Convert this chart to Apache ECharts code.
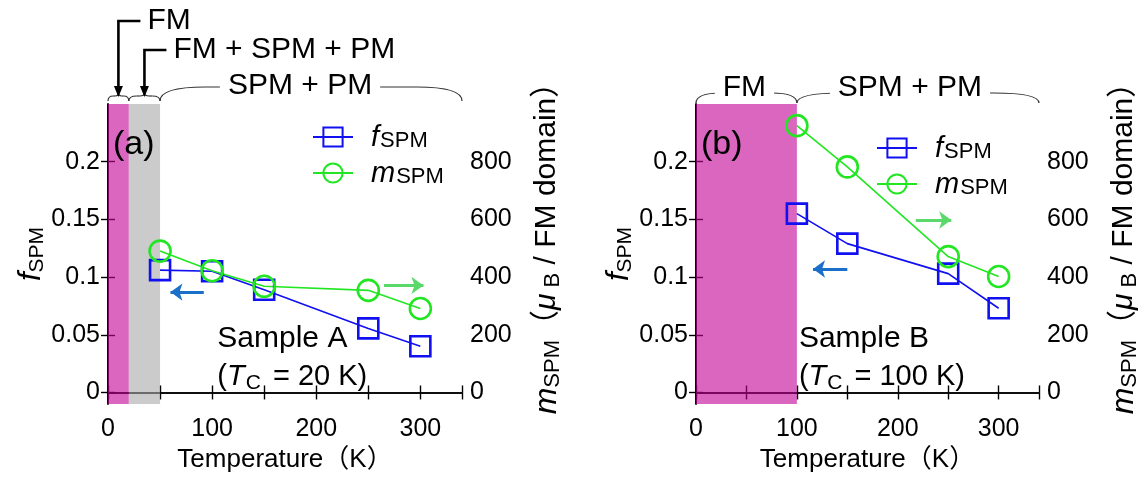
<!DOCTYPE html>
<html><head><meta charset="utf-8">
<script src="https://cdn.jsdelivr.net/npm/echarts@6/dist/echarts.min.js"></script>
<style>html,body{margin:0;padding:0;background:#fff}#c{width:1142px;height:478px}</style>
</head><body><div id="c"></div>
<script>
// ---- data ----
const tempA = [50, 100, 150, 250, 300];
const fA = [0.106, 0.105, 0.089, 0.0555, 0.040];
const mA = [490, 422, 368, 354, 291];
const tempB = [100, 150, 250, 300];
const fB = [0.155, 0.129, 0.103, 0.073];
const mB = [925, 782, 471, 402];
const xLabelVals = [0, 100, 200, 300];
const fTicks = [0, 0.05, 0.1, 0.15, 0.2];
const mTicks = [0, 200, 400, 600, 800];
const phasesA = [
  {from: 0, to: 20, name: 'FM', shade: 'mag'},
  {from: 20, to: 50, name: 'FM + SPM + PM', shade: 'gray'},
  {from: 50, to: 340, name: 'SPM + PM', shade: null}
];
const phasesB = [
  {from: 0, to: 100, name: 'FM', shade: 'mag'},
  {from: 100, to: 340, name: 'SPM + PM', shade: null}
];
// arrows: [xFrom, xTo, y]
const fArrowA = [92, 60, 0.087];
const mArrowA = [265, 303, 371];
const fArrowB = [150, 116, 0.107];
const mArrowB = [218, 253, 598];

// ---- style ----
const FONT = "'Liberation Sans', Arial, 'Noto Sans CJK JP', sans-serif";
const BLUE = '#1010f0';
const GREEN = '#22e622';
const SHADE = {mag: '#c10096', gray: '#a8a8a8'};
const AX = {lineStyle: {color: '#000', width: 1.6}};

const chart = echarts.init(document.getElementById('c'), null, {renderer: 'canvas'});

const grids = [
  {left: 108, top: 104, width: 354, height: 300},
  {left: 696, top: 104, width: 353, height: 300}
];

const xAxes = [], yAxes = [], series = [];
const legendRich = {
  i: {fontFamily: FONT, fontSize: 29, fontStyle: 'italic', color: '#000', verticalAlign: 'bottom', lineHeight: 30, padding: [0, 0, 0, 13]},
  s: {fontFamily: FONT, fontSize: 22, color: '#000', verticalAlign: 'bottom', lineHeight: 22, padding: [0, 0, 0, 1]}
};
const nameRichL = {
  i: {fontFamily: FONT, fontSize: 31, fontStyle: 'italic', color: '#000'},
  s: {fontFamily: FONT, fontSize: 21, color: '#000', padding: [11, 0, 0, 0]}
};
const nameRichR = {
  i: {fontFamily: FONT, fontSize: 32, fontStyle: 'italic', color: '#000', padding: [0, 0, 0, 26]},
  s: {fontFamily: FONT, fontSize: 22, color: '#000', padding: [12, 0, 0, 0]},
  n: {fontFamily: FONT, fontSize: 30, color: '#000'},
  g: {fontFamily: FONT, fontSize: 30, fontStyle: 'italic', color: '#000'}
};

function panel(gi, temps, f, m, phases, fArr, mArr) {
  const xb = gi * 2, yl = gi * 2, yr = gi * 2 + 1;
  xAxes.push({
    gridIndex: gi, type: 'value', min: 0, max: 340, interval: 50, position: 'bottom',
    axisLine: AX, splitLine: {show: false},
    axisTick: {inside: true, length: 7, lineStyle: {color: '#000', width: 1.4}},
    axisLabel: {fontFamily: FONT, fontSize: 25, color: '#000', margin: 13,
      formatter: v => xLabelVals.indexOf(v) >= 0 ? String(v) : ''},
    name: 'Temperature（K）', nameLocation: 'middle', nameGap: 42,
    nameTextStyle: {fontFamily: FONT, fontSize: 26, color: '#000'}
  });
  xAxes.push({
    gridIndex: gi, type: 'value', min: 0, max: 340, interval: 50, position: 'top',
    axisLine: AX, splitLine: {show: false},
    axisTick: {inside: true, length: 7, lineStyle: {color: '#000', width: 1.4}},
    axisLabel: {show: false}
  });
  yAxes.push({
    gridIndex: gi, type: 'value', min: -0.01, max: 0.25, position: 'left',
    axisLine: {show: true, lineStyle: {color: '#000', width: 1.6}}, splitLine: {show: false},
    axisTick: {show: true, inside: true, length: 7, customValues: fTicks, lineStyle: {color: '#000', width: 1.4}},
    axisLabel: {fontFamily: FONT, fontSize: 25, color: '#000', margin: 8, customValues: fTicks,
      formatter: v => String(v)},
    name: '{i|f}{s|SPM}', nameLocation: 'middle', nameGap: 55, nameRotate: 90,
    nameTextStyle: {rich: nameRichL}
  });
  yAxes.push({
    gridIndex: gi, type: 'value', min: -40, max: 1000, position: 'right',
    axisLine: {show: true, lineStyle: {color: '#000', width: 1.6}}, splitLine: {show: false},
    axisTick: {show: true, inside: true, length: 7, customValues: mTicks, lineStyle: {color: '#000', width: 1.4}},
    axisLabel: {fontFamily: FONT, fontSize: 25, color: '#000', margin: 8, customValues: mTicks},
    name: '{i|m}{s|SPM}{n|（}{g|μ}{s| B}{n| / FM domain）}', nameLocation: 'middle', nameGap: 68, nameRotate: 90,
    nameTextStyle: {rich: nameRichR}
  });
  const arrowLine = (arr, color) => ({
    silent: true, symbol: ['none', 'arrow'], symbolSize: [13, 12], label: {show: false},
    lineStyle: {color: color, width: 3.2, type: 'solid'}, emphasis: {disabled: true},
    data: [[{coord: [arr[0], arr[2]]}, {coord: [arr[1], arr[2]]}]]
  });
  series.push({
    type: 'line', name: 'f', xAxisIndex: xb, yAxisIndex: yl, z: 3,
    data: temps.map((t, i) => [t, f[i]]),
    symbol: 'rect', symbolSize: 20,
    lineStyle: {color: BLUE, width: 1.6},
    itemStyle: {color: 'rgba(255,255,255,0)', borderColor: BLUE, borderWidth: 2.6},
    emphasis: {disabled: true},
    markLine: arrowLine(fArr, '#1a70c8')
  });
  series.push({
    type: 'line', name: 'm', xAxisIndex: xb, yAxisIndex: yr, z: 3,
    data: temps.map((t, i) => [t, m[i]]),
    symbol: 'circle', symbolSize: 21,
    lineStyle: {color: GREEN, width: 1.6},
    itemStyle: {color: 'rgba(255,255,255,0)', borderColor: GREEN, borderWidth: 2.6},
    emphasis: {disabled: true},
    markLine: arrowLine(mArr, '#5ad86a')
  });
  series.push({
    type: 'line', xAxisIndex: xb, yAxisIndex: yl, data: [], z: 6, silent: true,
    markArea: {
      silent: true,
      data: phases.filter(p => p.shade).map(p => [
        {xAxis: p.from, itemStyle: {color: SHADE[p.shade], opacity: 0.6}},
        {xAxis: p.to}
      ])
    }
  });
}

panel(0, tempA, fA, mA, phasesA, fArrowA, mArrowA);
panel(1, tempB, fB, mB, phasesB, fArrowB, mArrowB);

const legendFmt = n => n === 'f' ? '{i|f}{s|SPM}' : '{i|m}{s|SPM}';
const legendBase = {
  orient: 'vertical', itemWidth: 40, itemHeight: 24, itemGap: 7, data: ['f', 'm'],
  selectedMode: false, formatter: legendFmt, textStyle: {rich: legendRich}, padding: 0
};

chart.setOption({
  animation: false,
  backgroundColor: '#fff',
  grid: grids,
  xAxis: xAxes,
  yAxis: yAxes,
  legend: [
    Object.assign({left: 312, top: 123}, legendBase),
    Object.assign({left: 876, top: 134}, legendBase)
  ],
  series: series
});

// ---- annotations (text + braces) positioned from the axes ----
function px(gi, v) { return chart.convertToPixel({xAxisIndex: gi * 2}, v); }
const g = [];
const braceStyle = {stroke: '#333', lineWidth: 1.2, fill: null};
function brace(x0, x1, yEnd, yBar, yTip) {
  const w = x1 - x0, mid = (x0 + x1) / 2;
  const r = Math.min(w / 4, 45), q = r * 0.6;
  const bz = (ax, ay, cx, cy, bx, by) => g.push({type: 'bezierCurve', z: 10, silent: true,
    shape: {x1: ax, y1: ay, cpx1: cx, cpy1: cy, x2: bx, y2: by}, style: braceStyle});
  const ln = (ax, ay, bx, by) => g.push({type: 'line', z: 10, silent: true,
    shape: {x1: ax, y1: ay, x2: bx, y2: by}, style: braceStyle});
  bz(x0, yEnd, x0, yBar, x0 + r, yBar);
  if (mid - q > x0 + r) ln(x0 + r, yBar, mid - q, yBar);
  bz(mid - q, yBar, mid, yBar, mid, yTip);
  bz(mid, yTip, mid, yBar, mid + q, yBar);
  if (x1 - r > mid + q) ln(mid + q, yBar, x1 - r, yBar);
  bz(x1 - r, yBar, x1, yBar, x1, yEnd);
}
const topText = {fontFamily: FONT, fontSize: 30, fill: '#000'};

// panel a
phasesA.forEach((p, k) => {
  const x0 = px(0, p.from), x1 = px(0, p.to);
  if (k < 2) {
    brace(x0, x1, 101, 96, 93);
  } else {
    brace(x0, x1, 101, 87, 84);
    g.push({type: 'text', x: (x0 + x1) / 2 - 11, y: 86, z: 20,
      style: Object.assign({text: p.name, align: 'center', verticalAlign: 'middle',
        backgroundColor: '#fff', padding: [0, 8, 0, 8]}, topText)});
  }
});
// labelled arrows for the narrow phases
[[0, 21, 'FM'], [1, 50, 'FM + SPM + PM']].forEach(([k, ty]) => {
  const p = phasesA[k];
  const xm = px(0, (p.from + p.to) / 2);
  g.push({type: 'polyline', z: 10, shape: {points: [[xm + 22, ty], [xm, ty], [xm, 88]]},
    style: {stroke: '#000', lineWidth: 2.6, fill: null}});
  g.push({type: 'polygon', z: 10, shape: {points: [[xm - 4.5, 86], [xm + 4.5, 86], [xm, 97]]},
    style: {fill: '#000'}});
  g.push({type: 'text', x: xm + 29, y: ty, z: 20,
    style: Object.assign({text: p.name, align: 'left', verticalAlign: 'middle'}, topText)});
});
// panel b braces
phasesB.forEach((p, k) => {
  const x0 = px(1, p.from), x1 = px(1, p.to);
  brace(x0, x1, 103, 93, 90);
  g.push({type: 'text', x: (x0 + x1) / 2 + (k === 0 ? -2 : -8), y: 88, z: 20,
    style: Object.assign({text: p.name, align: 'center', verticalAlign: 'middle',
      backgroundColor: '#fff', padding: [0, 8, 0, 8]}, topText)});
});

// panel labels and sample text
const big = {fontFamily: FONT, fontSize: 30, fill: '#000'};
const sampleRich = {
  n: {fontFamily: FONT, fontSize: 29, color: '#000'},
  i: {fontFamily: FONT, fontSize: 29, fontStyle: 'italic', color: '#000'},
  s: {fontFamily: FONT, fontSize: 21, color: '#000', padding: [12, 4, 0, 1]}
};
function panelText(gi, tag, sample, tc) {
  const x0 = px(gi, 0);
  const xs = gi === 0 ? px(0, 105) : px(1, 100) + 2;
  g.push({type: 'text', x: x0 + 5, y: 145, z: 20,
    style: {text: tag, verticalAlign: 'middle', fontFamily: FONT, fontSize: 34, fill: '#000'}});
  g.push({type: 'text', x: xs, y: 339, z: 20,
    style: Object.assign({text: sample, verticalAlign: 'middle'}, big)});
  g.push({type: 'text', x: xs, y: 377, z: 20,
    style: {text: '{n|(}{i|T}{s|C}{n| = ' + tc + ' K)}', rich: sampleRich, verticalAlign: 'middle'}});
}
panelText(0, '(a)', 'Sample A', 20);
panelText(1, '(b)', 'Sample B', 100);

chart.setOption({graphic: g});
</script>
</body></html>
